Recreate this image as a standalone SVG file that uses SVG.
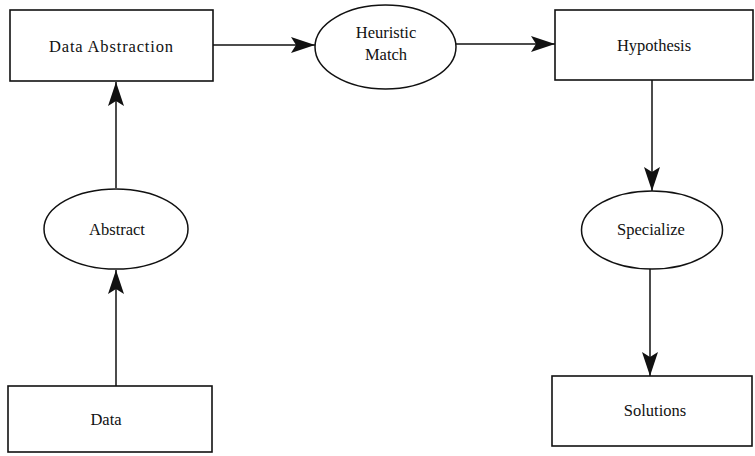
<svg xmlns="http://www.w3.org/2000/svg" width="755" height="456" viewBox="0 0 755 456">
  <style>
    .box { fill: #ffffff; stroke: #111111; stroke-width: 1.6; }
    .oval { fill: #ffffff; stroke: #111111; stroke-width: 1.5; }
    .label { font-family: 'Liberation Serif', 'DejaVu Serif', 'Times New Roman', serif; font-size: 16.5px; fill: #111111; text-anchor: middle; }
    .edge { fill: none; stroke: #111111; stroke-width: 1.5; marker-end: url(#head); }
  </style>
  <defs>
    <marker id="head" markerUnits="userSpaceOnUse" markerWidth="26" markerHeight="18" refX="24" refY="8" orient="auto">
      <path d="M0,0 L24,8 L0,16 L5,8 Z" fill="#111111"/>
    </marker>
  </defs>

  <rect width="755" height="456" fill="#ffffff"/>

  <g id="connectors">
    <line class="edge" x1="213" y1="45" x2="315" y2="45"/>
    <line class="edge" x1="456" y1="44" x2="555" y2="44"/>
    <line class="edge" x1="652" y1="80" x2="652" y2="191"/>
    <line class="edge" x1="650" y1="269" x2="650" y2="376"/>
    <line class="edge" x1="116" y1="386" x2="116" y2="270"/>
    <line class="edge" x1="116" y1="188" x2="116" y2="82"/>
  </g>

  <g id="data-abstraction">
    <rect class="box" x="10" y="10" width="203" height="71"/>
    <text class="label" x="111" y="52" font-family="Liberation Serif, DejaVu Serif, serif" textLength="124" lengthAdjust="spacing">Data Abstraction</text>
  </g>

  <g id="heuristic-match">
    <ellipse class="oval" cx="385.5" cy="47" rx="70.5" ry="42"/>
    <text class="label" x="386" y="38" font-family="Liberation Serif, DejaVu Serif, serif">Heuristic</text>
    <text class="label" x="386" y="60" font-family="Liberation Serif, DejaVu Serif, serif">Match</text>
  </g>

  <g id="hypothesis">
    <rect class="box" x="555" y="10" width="198" height="70"/>
    <text class="label" x="654" y="51" font-family="Liberation Serif, DejaVu Serif, serif">Hypothesis</text>
  </g>

  <g id="abstract">
    <ellipse class="oval" cx="116" cy="229" rx="72" ry="40"/>
    <text class="label" x="117" y="235" font-family="Liberation Serif, DejaVu Serif, serif">Abstract</text>
  </g>

  <g id="specialize">
    <ellipse class="oval" cx="652" cy="230" rx="70.5" ry="39"/>
    <text class="label" x="651" y="235" font-family="Liberation Serif, DejaVu Serif, serif">Specialize</text>
  </g>

  <g id="data">
    <rect class="box" x="8" y="386" width="204" height="66"/>
    <text class="label" x="106" y="425" font-family="Liberation Serif, DejaVu Serif, serif">Data</text>
  </g>

  <g id="solutions">
    <rect class="box" x="552" y="376" width="200" height="70"/>
    <text class="label" x="655" y="416" font-family="Liberation Serif, DejaVu Serif, serif">Solutions</text>
  </g>
</svg>
